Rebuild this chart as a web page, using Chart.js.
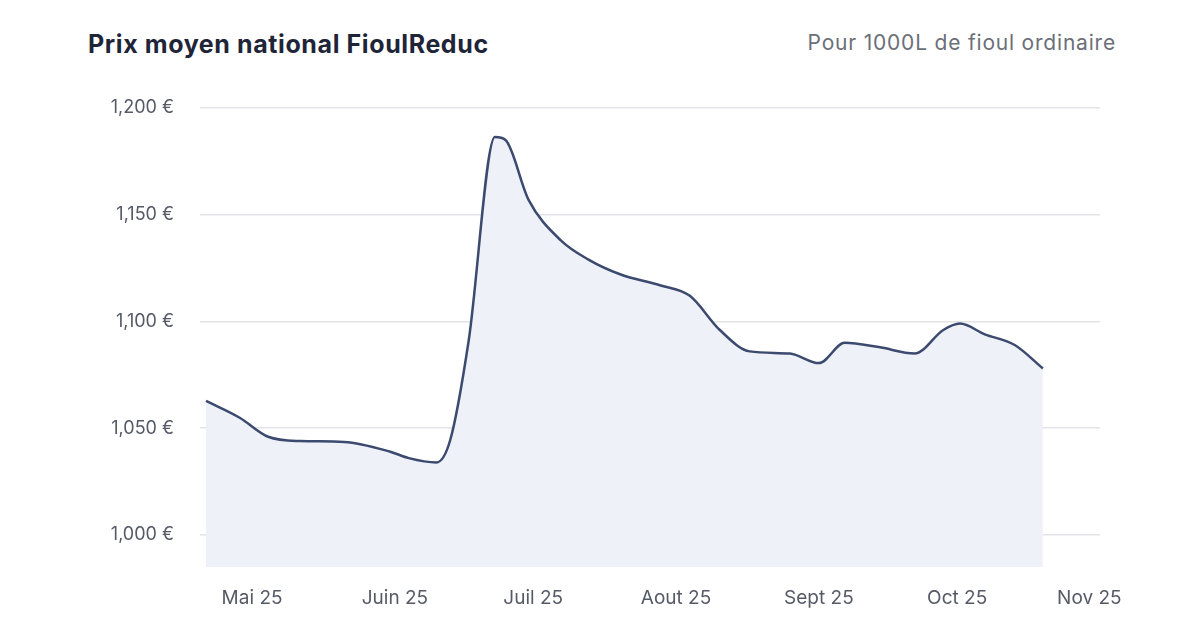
<!DOCTYPE html>
<html>
<head>
<meta charset="utf-8">
<script src="https://cdn.jsdelivr.net/npm/chart.js@4"></script>
<style>
  body { margin: 0; background: #fff; font-family: Inter, "Noto Sans", sans-serif; }
  #wrap { position: relative; width: 1200px; height: 627px; }
  #title { position: absolute; left: 88px; top: 29px; font-size: 25px; font-weight: 700; color: #1f2538; letter-spacing: 0.6px; }
  #sub { position: absolute; right: 84px; top: 30px; font-size: 21px; color: #6b6f78; letter-spacing: 0.8px; }
  canvas { position: absolute; left: 0; top: 0; }
</style>
</head>
<body>
<div id="wrap">
  <div id="title">Prix moyen national FioulReduc</div>
  <div id="sub">Pour 1000L de fioul ordinaire</div>
  <canvas id="myChart" width="1200" height="627"></canvas>
</div>
<script>
// days counted from 1 May 2025
var days = [-10, -2.6, 3.5, 10.4, 20, 30, 34, 40, 43, 47, 52.7, 55, 60, 67, 73, 80, 88.5, 95, 101.5, 108, 116.7, 123, 128.6, 136, 143.8, 150, 153.6, 159, 165.5, 171.6];
var prices = [1062.8, 1054.8, 1046, 1044, 1043.6, 1039, 1036, 1034, 1044.5, 1091, 1186.4, 1185, 1157, 1138, 1129, 1122, 1117, 1112, 1096, 1086, 1085, 1080.5, 1090, 1088, 1085, 1096, 1099, 1094, 1089, 1078];
var monthDays = [0, 31, 61, 92, 123, 153, 184];
var monthLabels = ["Mai 25", "Juin 25", "Juil 25", "Aout 25", "Sept 25", "Oct 25", "Nov 25    "];
var yTicks = [1000, 1050, 1100, 1150, 1200];

var points = days.map(function (d, i) { return { x: d, y: prices[i] }; });

var ctx = document.getElementById("myChart").getContext("2d");
new Chart(ctx, {
  type: "line",
  data: {
    datasets: [{
      data: points,
      borderColor: "#3b4a6e",
      borderWidth: 2.5,
      backgroundColor: "#eef1f8",
      fill: "start",
      pointRadius: 0,
      cubicInterpolationMode: "monotone"
    }]
  },
  options: {
    responsive: false,
    animation: false,
    layout: { padding: { left: 80, top: 108, right: 100, bottom: 10 } },
    plugins: { legend: { display: false }, tooltip: { enabled: false } },
    scales: {
      x: {
        type: "linear",
        min: -11.3,
        max: 184,
        grid: { display: false },
        border: { display: false },
        afterBuildTicks: function (scale) {
          scale.ticks = monthDays.map(function (v) { return { value: v }; });
        },
        afterFit: function (scale) { scale.height = 50; },
        ticks: {
          color: "#555a66",
          font: { size: 19, family: "Inter, 'Noto Sans', sans-serif" },
          padding: 12,
          maxRotation: 0,
          callback: function (v) { return monthLabels[monthDays.indexOf(v)]; }
        }
      },
      y: {
        min: 985,
        max: 1200,
        grid: { color: "#e3e4e8", lineWidth: 1.5, drawTicks: false },
        border: { display: false },
        afterBuildTicks: function (scale) {
          scale.ticks = yTicks.map(function (v) { return { value: v }; });
        },
        afterFit: function (scale) { scale.width = 120; },
        ticks: {
          color: "#555a66",
          font: { size: 18, family: "Inter, 'Noto Sans', sans-serif" },
          padding: 26,
          callback: function (v) { return v.toLocaleString("en-US") + " €"; }
        }
      }
    }
  }
});
</script>
</body>
</html>
